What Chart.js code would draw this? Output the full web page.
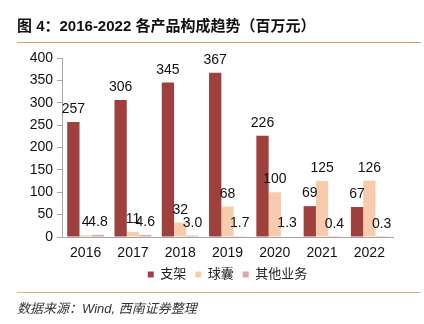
<!DOCTYPE html>
<html>
<head>
<meta charset="utf-8">
<script src="https://cdn.jsdelivr.net/npm/chart.js@4.4.1/dist/chart.umd.min.js"></script>
<style>
  html, body { margin: 0; padding: 0; background: #fff; }
  #wrap { width: 424px; height: 324px; position: relative; }
</style>
</head>
<body>
<div id="wrap"><canvas id="productChart" width="424" height="324"></canvas></div>
<script>
const years = ['2016', '2017', '2018', '2019', '2020', '2021', '2022'];
const stentValues = [257, 306, 345, 367, 226, 69, 67];
const balloonValues = [4, 11, 32, 68, 100, 125, 126];
const otherValues = [4.8, 4.6, 3.0, 1.7, 1.3, 0.4, 0.3];
const yTicks = [0, 50, 100, 150, 200, 250, 300, 350, 400];

const titleText = '图 4：2016-2022 各产品构成趋势（百万元）';
const sourceText = '数据来源：Wind, 西南证券整理';
const fontFamily = '"Liberation Sans", "Noto Sans CJK SC", sans-serif';

// value labels above bars + title / source decorations
const decorPlugin = {
    id: 'decor',
    afterDatasetsDraw(chart) {
        const ctx = chart.ctx;
        ctx.save();
        ctx.font = '14px ' + fontFamily;
        ctx.fillStyle = '#111';
        ctx.textAlign = 'center';
        ctx.textBaseline = 'alphabetic';
        chart.data.datasets.forEach(function (ds, i) {
            const meta = chart.getDatasetMeta(i);
            meta.data.forEach(function (bar, j) {
                const v = ds.data[j];
                const txt = ds.decimals ? v.toFixed(ds.decimals) : String(v);
                ctx.fillText(txt, bar.x, bar.y - 9);
            });
        });
        ctx.restore();
    },
    afterDraw(chart) {
        const ctx = chart.ctx;
        ctx.save();
        ctx.fillStyle = '#111';
        ctx.font = 'bold 15px ' + fontFamily;
        ctx.textBaseline = 'alphabetic';
        ctx.fillText(titleText, 17, 31);

        ctx.strokeStyle = '#D6A25E';
        ctx.lineWidth = 1;
        ctx.beginPath();
        ctx.moveTo(17, 42.5);
        ctx.lineTo(421, 42.5);
        ctx.stroke();

        ctx.strokeStyle = '#DDB583';
        ctx.beginPath();
        ctx.moveTo(17, 292.5);
        ctx.lineTo(421, 292.5);
        ctx.stroke();

        ctx.fillStyle = '#333';
        ctx.font = 'italic 13px ' + fontFamily;
        ctx.fillText(sourceText, 17, 313);
        ctx.restore();
    }
};

new Chart(document.getElementById('productChart'), {
    type: 'bar',
    data: {
        labels: years,
        datasets: [{
            label: '支架',
            data: stentValues,
            backgroundColor: '#9E403D',
            decimals: 0
        }, {
            label: '球囊',
            data: balloonValues,
            backgroundColor: '#F8CBAD',
            decimals: 0
        }, {
            label: '其他业务',
            data: otherValues,
            backgroundColor: '#DBA7A7',
            decimals: 1
        }]
    },
    options: {
        responsive: false,
        animation: false,
        devicePixelRatio: 1,
        layout: {
            padding: { top: 58, right: 31, bottom: 33, left: 0 }
        },
        datasets: {
            bar: {
                categoryPercentage: 0.78,
                barPercentage: 1.0
            }
        },
        plugins: {
            legend: {
                position: 'bottom',
                fullSize: false,
                labels: {
                    boxWidth: 6,
                    boxHeight: 6,
                    padding: 9,
                    color: '#222',
                    font: { family: fontFamily, size: 13 }
                }
            },
            tooltip: { enabled: false }
        },
        scales: {
            x: {
                afterFit(scale) {
                    scale.height = 22;
                },
                grid: { display: false, drawTicks: false, tickLength: 0 },
                border: { display: true, color: '#A6A6A6' },
                ticks: {
                    color: '#111',
                    padding: 8,
                    font: { family: fontFamily, size: 14 }
                }
            },
            y: {
                min: 0,
                max: 400,
                afterBuildTicks(scale) {
                    scale.ticks = yTicks.map(function (v) { return { value: v }; });
                },
                afterFit(scale) {
                    scale.width = 62;
                },
                grid: {
                    drawOnChartArea: false,
                    drawTicks: true,
                    tickLength: 5,
                    color: '#A6A6A6'
                },
                border: { display: true, color: '#A6A6A6' },
                ticks: {
                    autoSkip: false,
                    color: '#111',
                    padding: 4,
                    font: { family: fontFamily, size: 14 }
                }
            }
        }
    },
    plugins: [decorPlugin]
});
</script>
</body>
</html>
